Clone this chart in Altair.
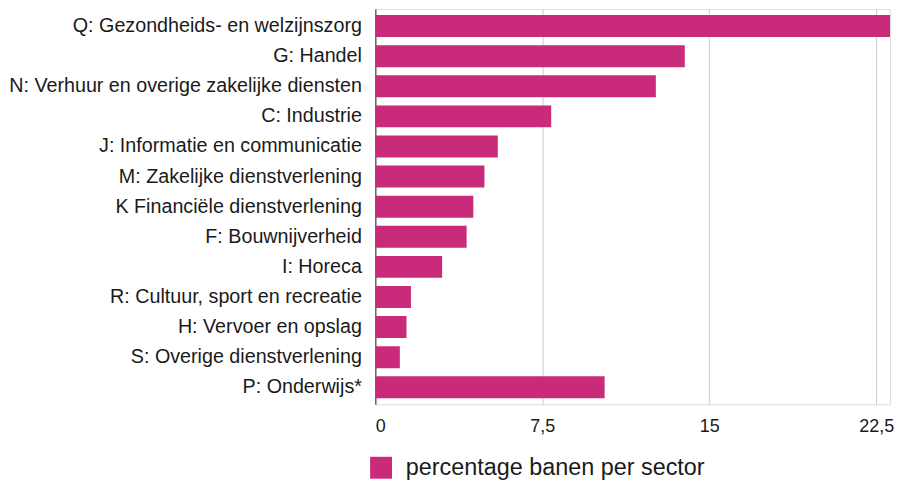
import altair as alt
import pandas as pd

sectors = [
    "Q: Gezondheids- en welzijnszorg",
    "G: Handel",
    "N: Verhuur en overige zakelijke diensten",
    "C: Industrie",
    "J: Informatie en communicatie",
    "M: Zakelijke dienstverlening",
    "K Financiële dienstverlening",
    "F: Bouwnijverheid",
    "I: Horeca",
    "R: Cultuur, sport en recreatie",
    "H: Vervoer en opslag",
    "S: Overige dienstverlening",
    "P: Onderwijs*",
]
values = [23.6, 13.9, 12.6, 7.9, 5.5, 4.9, 4.4, 4.1, 3.0, 1.6, 1.4, 1.1, 10.3]
series_name = "percentage banen per sector"
tick_values = [0, 7.5, 15, 22.5]

df = pd.DataFrame({"sector": sectors, "waarde": values, "reeks": [series_name] * len(sectors)})

FONT = "Liberation Sans"
COLOR = "#c92a7a"

chart = (
    alt.Chart(df)
    .mark_bar(clip=True)
    .encode(
        y=alt.Y(
            "sector:N",
            sort=sectors,
            title=None,
            scale=alt.Scale(paddingInner=0.27, paddingOuter=0.2),
            axis=alt.Axis(
                ticks=False,
                domain=True,
                domainColor="#333333",
                domainWidth=1,
                labelFont=FONT,
                labelFontSize=19.8,
                labelColor="#1a1a1a",
                labelPadding=14,
                labelLimit=500,
            ),
        ),
        x=alt.X(
            "waarde:Q",
            title=None,
            scale=alt.Scale(domain=[0, 23.12], nice=False, zero=True),
            axis=alt.Axis(
                values=tick_values,
                grid=True,
                gridColor="#cccccc",
                domain=False,
                ticks=False,
                labelFont=FONT,
                labelFontSize=18,
                labelColor="#1a1a1a",
                labelPadding=13,
                labelExpr="replace(format(datum.value, '.1~f'), '.', ',')",
            ),
        ),
        color=alt.Color(
            "reeks:N",
            scale=alt.Scale(range=[COLOR]),
            legend=alt.Legend(
                title=None,
                orient="none",
                legendX=-6,
                legendY=449,
                symbolType="square",
                symbolSize=484,
                symbolStrokeWidth=0,
                labelFont=FONT,
                labelFontSize=23.5,
                labelColor="#1a1a1a",
                labelOffset=13,
                padding=0,
                labelLimit=600,
            ),
        ),
    )
    .properties(width=517, height=397, padding={"left": 0, "top": 0, "right": 0, "bottom": 0})
    .configure_view(stroke=None)
    .configure(background="white")
)

chart.save("out.html", embed_options={"renderer": "svg", "actions": False})
